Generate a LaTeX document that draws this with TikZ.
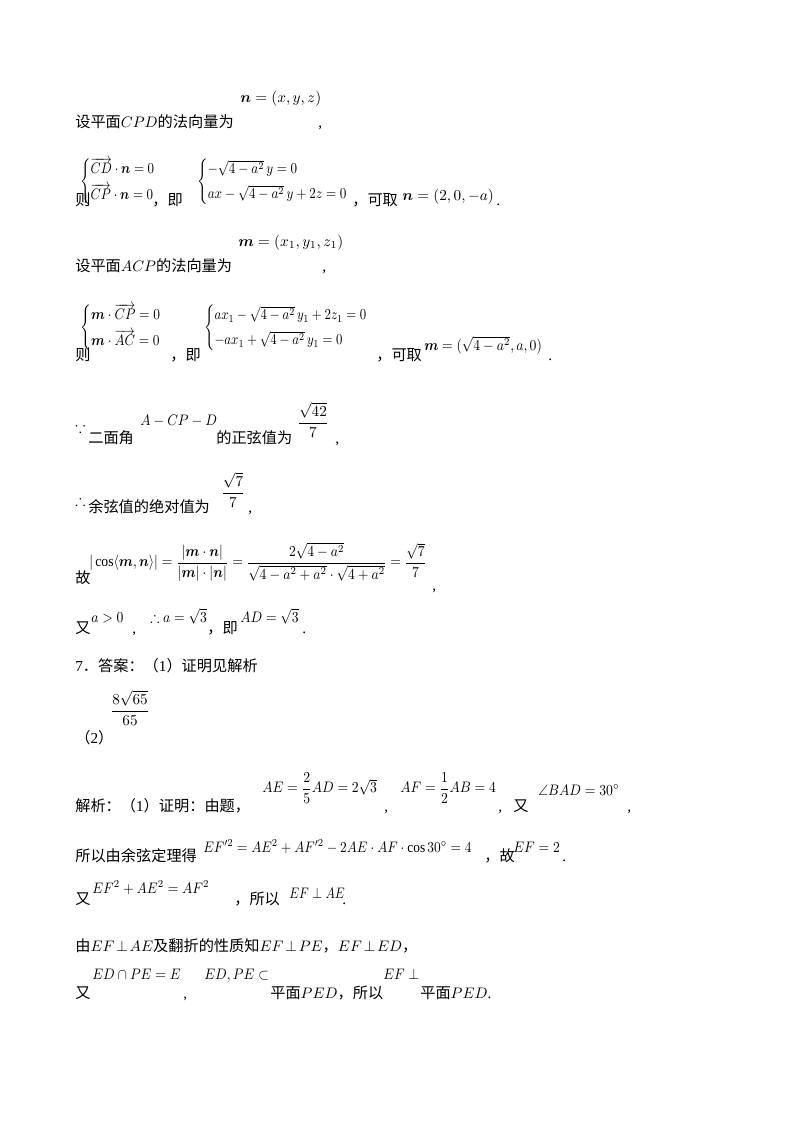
\documentclass[tikz,border=0pt]{standalone}
\usepackage{amsmath,amssymb,bm}
\usepackage{fontspec}
\setmainfont{Liberation Serif}
\newfontfamily\cjk{Noto Sans CJK SC}
\newcommand{\cj}[1]{{\cjk #1}}
\begin{document}
\begin{tikzpicture}[x=1pt,y=-1pt,every node/.style={inner sep=0pt,anchor=base west,scale=1.52},
  mth/.style={xscale=0.9}]
\useasboundingbox (0,0) rectangle (800,1132);
% line 1
\node (a1) at (75,127) {\cj{设平面}$CPD$\cj{的法向量为}};
\node (a2) at (240,102) {$\bm n=(x,y,z)$};
\node (a3) at (318,127) {,};
% line 2
\node (b0) at (75,205) {\cj{则}};
\node[anchor=west,xscale=0.85] (b1) at (80,182) {$\begin{cases}\overrightarrow{CD}\cdot\bm n=0\\[2pt] \overrightarrow{CP}\cdot\bm n=0\end{cases}$};
\node (b2) at (152,205) {\cj{，即}};
\node[anchor=west,xscale=0.86] (b3) at (197,182) {$\begin{cases}-\sqrt{4-a^2}\,y=0\\[2pt] ax-\sqrt{4-a^2}\,y+2z=0\end{cases}$};
\node (b4) at (352,205) {\cj{，可取}};
\node (b5) at (402,200) {$\bm n=(2,0,-a)$};
\node (b6) at (496,205) {.};
% line 3
\node (c1) at (75,271) {\cj{设平面}$ACP$\cj{的法向量为}};
\node (c2) at (238,246) {$\bm m=\left(x_1,y_1,z_1\right)$};
\node (c3) at (322,271) {,};
% line 4
\node (d0) at (75,360) {\cj{则}};
\node[anchor=west,xscale=0.88] (d1) at (80,328) {$\begin{cases}\bm m\cdot\overrightarrow{CP}=0\\[2pt] \bm m\cdot\overrightarrow{AC}=0\end{cases}$};
\node (d2) at (170,360) {\cj{，即}};
\node[anchor=west,xscale=0.84] (d3) at (204,328) {$\begin{cases}ax_1-\sqrt{4-a^2}\,y_1+2z_1=0\\[2pt] -ax_1+\sqrt{4-a^2}\,y_1=0\end{cases}$};
\node (d4) at (376,360) {\cj{，可取}};
\node[mth] (d5) at (424,350) {$\bm m=(\sqrt{4-a^2},a,0)$};
\node (d6) at (548,360) {.};
% line 5
\node (e0) at (75,432) {$\because$};
\node (e1) at (88,443) {\cj{二面角}};
\node[mth] (e2) at (140,425) {$A-CP-D$};
\node (e3) at (216,443) {\cj{的正弦值为}};
\node[anchor=center] (e4) at (313,420) {$\dfrac{\sqrt{42}}{7}$};
\node (e5) at (335,443) {,};
% line 6
\node (f0) at (75,505) {$\therefore$};
\node (f1) at (88,512) {\cj{余弦值的绝对值为}};
\node[anchor=center] (f2) at (233,490) {$\dfrac{\sqrt7}{7}$};
\node (f3) at (248,512) {,};
% line 7
\node (g0) at (75,583) {\cj{故}};
\node[anchor=west,xscale=0.9] (g1) at (89,562) {$|\cos\langle\bm m,\bm n\rangle|=\dfrac{|\bm m\cdot\bm n|}{|\bm m|\cdot|\bm n|}=\dfrac{2\sqrt{4-a^2}}{\sqrt{4-a^2+a^2}\cdot\sqrt{4+a^2}}=\dfrac{\sqrt7}{7}$};
\node (g2) at (432,590) {,};
% line 8
\node (h0) at (75,633) {\cj{又}};
\node[mth] (h1) at (91,622) {$a>0$};
\node (h2) at (132,633) {,};
\node[mth] (h3) at (150,622) {$\therefore a=\sqrt3$};
\node (h4) at (207,633) {\cj{，即}};
\node[mth] (h5) at (240,622) {$AD=\sqrt3$};
\node (h6) at (302,633) {.};
% line 9
\node (i0) at (75,671) {7\cj{．答案：（}1\cj{）证明见解析}};
\node[anchor=center] (i1) at (130,708) {$\dfrac{8\sqrt{65}}{65}$};
\node (i2) at (75,743) {\cj{（}2\cj{）}};
% line 11
\node (j0) at (75,811) {\cj{解析：（}1\cj{）证明：由题，}};
\node[anchor=west,mth] (j1) at (262,788) {$AE=\dfrac25AD=2\sqrt3$};
\node (j2) at (384,811) {,};
\node[anchor=west,mth] (j3) at (400,788) {$AF=\dfrac12AB=4$};
\node (j4) at (498,811) {,};
\node (j5) at (513,811) {\cj{又}};
\node[mth] (j6) at (538,795) {$\angle BAD=30^\circ$};
\node (j7) at (627,811) {,};
% line 12
\node (k0) at (75,861) {\cj{所以由余弦定理得}};
\node[xscale=0.88] (k1) at (203,852) {$EF'^2=AE^2+AF'^2-2AE\cdot AF\cdot\cos30^\circ=4$};
\node (k2) at (484,861) {\cj{，故}};
\node[mth] (k3) at (513,852) {$EF=2$};
\node (k4) at (562,861) {.};
% line 13
\node (l0) at (75,904) {\cj{又}};
\node[mth] (l1) at (92,893) {$EF^2+AE^2=AF^2$};
\node (l2) at (234,904) {\cj{，所以}};
\node[xscale=0.82] (l3) at (289,898) {$EF\perp AE$};
\node (l4) at (342,904) {.};
% line 14
\node (m0) at (75,951) {\cj{由}$EF\!\perp\! AE$\cj{及翻折的性质知}$EF\!\perp\! PE$\cj{，}$EF\!\perp\! ED$\cj{，}};
% line 15
\node (n0) at (75,998) {\cj{又}};
\node[mth] (n1) at (92,979) {$ED\cap PE=E$};
\node (n2) at (183,998) {,};
\node[mth] (n3) at (204,979) {$ED,PE\subset$};
\node (n4) at (270,998) {\cj{平面}$PED$\cj{，所以}};
\node[mth] (n5) at (383,979) {$EF\perp$};
\node (n6) at (420,998) {\cj{平面}$PED$.};
\end{tikzpicture}
\end{document}
